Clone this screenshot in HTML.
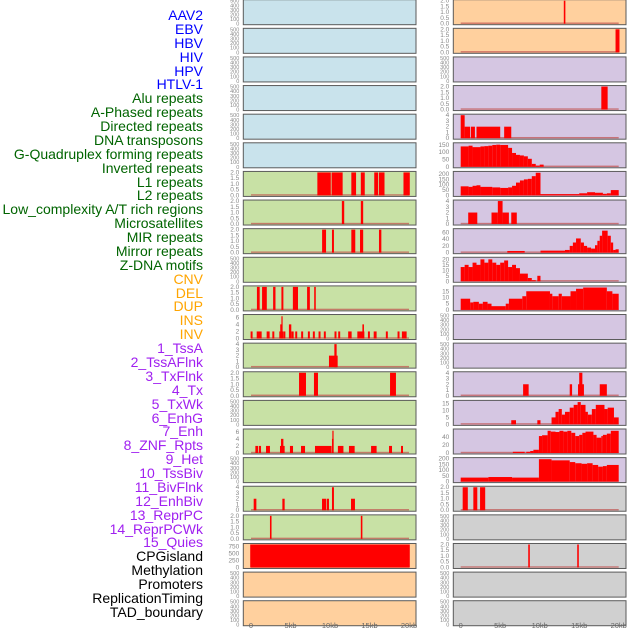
<!DOCTYPE html>
<html><head><meta charset="utf-8"><style>
html,body{margin:0;padding:0;background:#fff;width:630px;height:630px;overflow:hidden}
#labels{position:absolute;left:0;top:0;width:203px;height:630px}
.lb{position:absolute;right:0;font:14px "Liberation Sans",sans-serif;white-space:nowrap;line-height:14px}
svg{position:absolute;left:0;top:0}
</style></head><body>
<div id="labels"></div>
<svg id="chart" width="630" height="630"></svg>
<script>
const labelNames=["AAV2","EBV","HBV","HIV","HPV","HTLV-1","Alu repeats","A-Phased repeats","Directed repeats","DNA transposons","G-Quadruplex forming repeats","Inverted repeats","L1 repeats","L2 repeats","Low_complexity A/T rich regions","Microsatellites","MIR repeats","Mirror repeats","Z-DNA motifs","CNV","DEL","DUP","INS","INV","1_TssA","2_TssAFlnk","3_TxFlnk","4_Tx","5_TxWk","6_EnhG","7_Enh","8_ZNF_Rpts","9_Het","10_TssBiv","11_BivFlnk","12_EnhBiv","13_ReprPC","14_ReprPCWk","15_Quies","CPGisland","Methylation","Promoters","ReplicationTiming","TAD_boundary"];
const labelColors=["#0000ff","#0000ff","#0000ff","#0000ff","#0000ff","#0000ff","#006400","#006400","#006400","#006400","#006400","#006400","#006400","#006400","#006400","#006400","#006400","#006400","#006400","#ffa500","#ffa500","#ffa500","#ffa500","#ffa500","#a020f0","#a020f0","#a020f0","#a020f0","#a020f0","#a020f0","#a020f0","#a020f0","#a020f0","#a020f0","#a020f0","#a020f0","#a020f0","#a020f0","#a020f0","#000","#000","#000","#000","#000"];
const xTickLabels=["0","5kb","10kb","15kb","20kb"];
const xTickValues=[0,5,10,15,20];
const BLUE="#c9e3ec",GREEN="#c8e1a5",ORANGE="#ffd09e",PURPLE="#d5c6e2",GREY="#d0d0d0";
const leftBg=[BLUE,BLUE,BLUE,BLUE,BLUE,BLUE,GREEN,GREEN,GREEN,GREEN,GREEN,GREEN,GREEN,GREEN,GREEN,GREEN,GREEN,GREEN,GREEN,ORANGE,ORANGE,ORANGE];
const rightBg=[ORANGE,ORANGE,PURPLE,PURPLE,PURPLE,PURPLE,PURPLE,PURPLE,PURPLE,PURPLE,PURPLE,PURPLE,PURPLE,PURPLE,PURPLE,PURPLE,PURPLE,GREY,GREY,GREY,GREY,GREY];
const T2=["0.0","0.5","1.0","1.5","2.0"],T4=["0","1","2","3","4"],T500=["0","100","200","300","400","500"],T6=["0","2","4","6"];
const leftTicks=[T500,T500,T500,T500,T500,T500,T2,T2,T2,T500,T2,T6,T4,T2,T500,T6,T500,T4,T2,["0","250","500","750"],T500,T500];
const leftMax=[500,500,500,500,500,500,2,2,2,500,2,6.5,4,2,500,6.5,500,4,2,820,500,500];
const rightTicks=[T2,T2,T500,T2,T4,["0","50","100","150"],["0","50","100","150","200"],T4,["0","20","40","60"],["0","5","10","15","20"],["0","5","10","15"],T500,T500,T4,["0","5","10","15"],["0","20","40"],["0","50","100","150","200"],T2,T500,T2,T500,T500];
const rightMax=[2,2,500,2,4,158,215,4,68,21,18.5,500,500,4,16.5,57,200,2,500,2,500,500];
const s=(a,b,v)=>[a,b,v];
const leftBars=[[],[],[],[],[],[],
[s(8.4,10.1,2),s(10.2,11.6,2),s(12.7,13.3,2),s(13.9,14.4,2),s(15.6,16.1,2),s(16.2,16.9,2),s(19.3,20.1,2)],
[s(11.5,11.8,2),s(13.9,14.2,2)],
[s(9,9.5,2),s(10.25,10.5,2),s(12.7,13.2,2),s(13.8,14.2,2),s(16.2,16.5,2)],
[],
[s(0.75,1.1,2),s(1.4,2,2),s(2.8,3.1,2),s(3.85,4.1,2),s(5.3,5.95,2),s(7.1,7.45,2),s(8,8.2,2)],
[s(-0.05,0.2,2),s(0.72,1.35,2),s(1.98,2.36,2),s(2.7,2.95,2),s(3.58,4.1,2),s(3.7,3.95,4),s(3.85,4.0,6.3),s(4.12,4.35,2),s(4.8,5.1,4),s(5.1,5.4,2),s(5.6,5.85,2),s(6.35,6.6,2),s(7.2,7.45,2),s(7.83,8.08,2),s(8.55,8.8,2),s(9.22,9.47,2),s(10.57,10.82,2),s(11.04,11.29,2),s(12.3,12.74,2),s(13.46,14.35,2),s(14.1,14.3,4),s(14.8,15.05,2),s(15.53,15.9,2),s(17.07,17.32,2),s(18.55,18.8,2),s(19.1,19.7,2)],
[s(9.87,10.97,2),s(10.55,10.84,4)],
[s(6.08,6.96,2),s(7.97,8.48,2),s(17.6,18.35,2)],
[],
[s(0.55,0.9,2),s(1,1.27,2),s(1.9,2.4,2),s(3.67,4.26,2),s(3.8,4.1,4),s(4.93,5.32,2),s(6.33,6.84,2),s(8.1,10.2,2),s(10.25,10.46,4),s(10.3,10.42,6.3),s(11,11.7,2),s(12.4,13.12,2),s(15.2,15.9,2),s(17.47,17.85,2),s(18.99,19.24,2)],
[],
[s(0.34,0.68,2),s(3.97,4.26,2),s(8.99,9.5,2),s(9.58,9.87,2),s(10.25,10.5,4),s(12.66,13.16,2)],
[s(2.4,2.6,2),s(13.9,14.1,2)],
[s(-0.1,20.1,820)],[],[]];
const rightBars=[
[s(13.05,13.25,2)],
[s(19.6,20.1,2)],
[],
[s(17.8,18.6,2)],
[s(0,0.5,4),s(0.5,1.2,2),s(1.3,1.8,2),s(2,5,2),s(5.5,6.4,2)],
[s(0,1,140),s(1,1.5,145),s(1.5,2.5,135),s(2.5,3,140),s(3,3.5,142),s(3.5,4,145),s(4,4.5,150),s(4.5,5,152),s(5,6,150),s(6,6.5,130),s(6.5,7,95),s(7,7.5,82),s(7.5,8,78),s(8,8.5,72),s(8.5,9,55),s(9,9.5,20),s(9.5,10,8),s(10,10.5,15)],
[s(0,1,85),s(1,1.5,80),s(1.5,2,90),s(2,2.5,95),s(2.5,4,80),s(4,5,75),s(5,6,70),s(6,6.5,75),s(6.5,7,90),s(7,7.5,120),s(7.5,8,140),s(8,8.5,150),s(8.5,9,155),s(9,9.5,180),s(9.5,10.1,212),s(10.1,15,12),s(15,16,20),s(16,17,30),s(17,18,25),s(18,18.5,15),s(18.5,19,20),s(19,20,50)],
[s(0.95,2.1,2),s(3.9,4.7,2),s(4.7,5.3,4),s(5.3,6.1,2),s(6.4,7.1,2)],
[s(5.9,8.1,5),s(10.1,13.2,6),s(13.2,13.8,8),s(13.8,14.2,20),s(14.2,14.6,30),s(14.6,15.2,42),s(15.2,15.6,30),s(15.6,16,20),s(16,16.5,15),s(16.5,17,12),s(17,17.3,22),s(17.3,17.6,35),s(17.6,17.9,50),s(17.9,18.6,65),s(18.6,19,50),s(19,19.3,30),s(19.3,19.6,8),s(19.6,20,10)],
[s(0,0.5,13),s(0.5,1,15),s(1,1.5,13),s(1.5,2,17),s(2,2.5,15),s(2.5,3,20),s(3,3.5,17),s(3.5,4,20),s(4,4.5,17),s(4.5,5,15),s(5,5.5,17),s(5.5,6,19),s(6,6.5,13),s(6.5,7,15),s(7,7.5,12),s(7.5,8.5,7),s(8.5,9,3),s(9,9.5,1),s(9.7,10.1,5)],
[s(0,1.2,9),s(1.2,1.6,6),s(1.6,2.3,6.5),s(2.3,2.8,5),s(2.8,3.4,6.5),s(3.4,3.9,5),s(3.9,5.7,3),s(5.7,6.1,5),s(6.1,7.8,9),s(7.8,8.3,11),s(8.3,11.3,15),s(11.3,11.6,13),s(11.6,12.4,11),s(12.4,12.8,13),s(12.8,13.9,11),s(13.9,14.6,15),s(14.6,15.5,17),s(15.5,18.5,18),s(18.5,19.2,15),s(19.2,20,13)],
[],[],
[s(7.9,8.6,2),s(13.8,14.1,2),s(14.85,15.6,2),s(15,15.4,4),s(17.6,18.5,2)],
[s(6.4,7,3),s(9.7,10.1,3),s(11.5,12,5),s(12,12.4,9),s(12.4,12.8,11),s(12.8,13.2,7),s(13.2,13.8,9),s(13.8,14.3,12),s(14.3,14.8,14),s(14.8,15.2,16),s(15.2,15.8,14),s(15.8,16.1,9),s(16.1,16.6,7),s(16.6,17.1,11),s(17.1,18.2,14),s(18.2,18.6,11),s(18.6,19.4,12),s(19.4,20,5)],
[s(6.6,8.1,3),s(8.3,8.8,3),s(8.8,9.2,5),s(9.2,9.9,8),s(9.9,10.3,42),s(10.3,11,44),s(11,11.4,55),s(11.4,12,53),s(12,12.5,52),s(12.5,13,55),s(13,13.5,53),s(13.5,14,55),s(14,14.5,50),s(14.5,15,42),s(15,15.4,45),s(15.4,15.8,50),s(15.8,16.8,53),s(16.8,17.2,45),s(17.2,17.8,38),s(17.8,18,42),s(18,18.5,45),s(18.5,19,48),s(19,20,55)],
[s(0,3.5,35),s(3.5,6.5,40),s(6.5,9.9,35),s(9.9,11.5,195),s(11.5,13.8,185),s(13.8,14.5,170),s(14.5,15.3,160),s(15.3,16,155),s(16,16.7,160),s(16.7,17.4,145),s(17.4,18,130),s(18,18.5,135),s(18.5,20,145)],
[s(0.25,0.9,2),s(1.6,2.1,2),s(2.45,3.1,2)],
[],
[s(8.55,8.75,2),s(14.75,14.95,2)],
[],[]];

const NS="http://www.w3.org/2000/svg";
const svg=document.getElementById('chart');
const L=document.getElementById('labels');
labelNames.forEach((n,i)=>{const d=document.createElement('div');d.className='lb';d.textContent=n;d.style.color=labelColors[i];d.style.top=(8+i*13.88)+'px';


L.appendChild(d);});
function el(t,a,p){const e=document.createElementNS(NS,t);for(const k in a)e.setAttribute(k,a[k]);(p||svg).appendChild(e);return e;}
const cols=[{x0:243.3,x1:416,z:251,bg:leftBg,ticks:leftTicks,max:leftMax,bars:leftBars,name:'left'},{x0:453.3,x1:626,z:460.7,bg:rightBg,ticks:rightTicks,max:rightMax,bars:rightBars,name:'right'}];
const K=7.9;
cols.forEach(c=>{
  const xs=kb=>c.z+kb*K;
  for(let i=0;i<22;i++){
    const top=i*28.62-0.3,h=25;
    const ys=v=>top+h-1-Math.min(v,c.max[i])/c.max[i]*(h-2);
    const g=el('g',{});
    
    
    el('rect',{x:c.x0,y:top,width:c.x1-c.x0,height:h,fill:c.bg[i],stroke:'#5a5a5a','stroke-width':1},g);
    const t=c.ticks[i],n=t.length;
    t.forEach((lab,k)=>{const v=parseFloat(lab);const tx=el('text',{x:c.x0-4,y:ys(v)+2,'font-size':(n>5?5.5:6.5),fill:'#888','text-anchor':'end','font-family':'Liberation Sans, sans-serif'},g);tx.textContent=lab;});
    const bars=c.bars[i];
    if(bars.length){
      el('rect',{x:xs(0),y:top+h-2.2,width:20*K,height:1.4,fill:'#c0504d',opacity:0.7},g);
      bars.forEach(b=>{const r=el('rect',{x:xs(b[0]),y:ys(b[2]),width:Math.max(1.2,(b[1]-b[0])*K),height:top+h-1-ys(b[2]),fill:'#ff0000'},g);
        
        });
    }
  }
  xTickValues.forEach((v,k)=>{const tx=el('text',{x:xs(v),y:628,'font-size':7.5,fill:'#666','text-anchor':'middle','font-family':'Liberation Sans, sans-serif'});tx.textContent=xTickLabels[k];
    
    });
});
</script>
</body></html>
